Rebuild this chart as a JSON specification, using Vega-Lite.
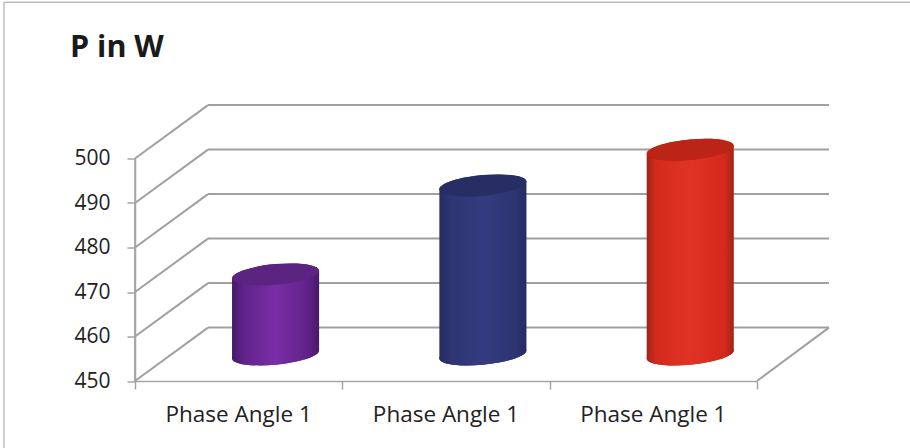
{
  "$schema": "https://vega.github.io/schema/vega-lite/v6.json",
  "width": 622,
  "height": 222.5,
  "autosize": "none",
  "padding": {"left": 135, "top": 158.5, "right": 153, "bottom": 67},
  "background": "white",
  "title": {"text": "P in W", "anchor": "start", "frame": "group", "font": "Open Sans", "fontSize": 30.5, "fontWeight": "bold", "color": "#1a1a1a", "dx": -65, "dy": 90, "baseline": "alphabetic"},
  "config": {"view": {"stroke": null}},
  "datasets": {
    "levels": [{"watt": 450}, {"watt": 460}, {"watt": 470}, {"watt": 480}, {"watt": 490}, {"watt": 500}],
    "bars": [
      {"slot": 0.5, "label": "Phase Angle 1", "power": 468},
      {"slot": 1.5, "label": "Phase Angle 1", "power": 488},
      {"slot": 2.5, "label": "Phase Angle 1", "power": 496}
    ]
  },
  "layer": [
    {
      "description": "Front axes of the 3D box",
      "data": {"name": "levels"},
      "mark": {"type": "rule", "stroke": "#a6a6a6", "strokeWidth": 1.5},
      "encoding": {
        "x": {"datum": 0, "type": "quantitative", "scale": {"domain": [0, 3], "nice": false, "zero": false},
          "axis": {"values": [0, 1, 2, 3], "labels": false, "title": null, "grid": false, "domainColor": "#a6a6a6", "domainWidth": 1.5, "tickColor": "#a6a6a6", "tickWidth": 1.5, "tickSize": 8}},
        "y": {"field": "watt", "type": "quantitative", "scale": {"domain": [450, 500], "nice": false, "zero": false},
          "axis": {"values": [450, 460, 470, 480, 490, 500], "title": null, "grid": false, "domainColor": "#a6a6a6", "domainWidth": 1.5, "tickColor": "#a6a6a6", "tickWidth": 1.5, "tickSize": 8, "labelFont": "Open Sans", "labelFontSize": 21, "labelColor": "#222222", "labelPadding": 17}}
      }
    },
    {
      "description": "Receding side-wall gridlines",
      "data": {"name": "levels"},
      "transform": [{"calculate": "datum.watt + 12", "as": "back"}],
      "mark": {"type": "rule", "stroke": "#a0a0a0", "strokeWidth": 2},
      "encoding": {
        "x": {"datum": 0, "type": "quantitative"},
        "x2": {"datum": 0.352},
        "y": {"field": "watt", "type": "quantitative"},
        "y2": {"field": "back"}
      }
    },
    {
      "description": "Back-wall gridlines",
      "data": {"name": "levels"},
      "transform": [{"calculate": "datum.watt + 12", "as": "back"}],
      "mark": {"type": "rule", "stroke": "#a0a0a0", "strokeWidth": 2},
      "encoding": {
        "x": {"datum": 0.352, "type": "quantitative"},
        "x2": {"datum": 3.347},
        "y": {"field": "back", "type": "quantitative"}
      }
    },
    {
      "description": "Right edge of the floor",
      "data": {"values": [{"watt": 450, "back": 462}]},
      "mark": {"type": "rule", "stroke": "#a0a0a0", "strokeWidth": 2},
      "encoding": {
        "x": {"datum": 3, "type": "quantitative"},
        "x2": {"datum": 3.347},
        "y": {"field": "watt", "type": "quantitative"},
        "y2": {"field": "back"}
      }
    },
    {
      "description": "Chart frame, top and left",
      "data": {"values": [{"top": 535.1, "bottom": 434.7, "left": -0.632, "right": 3.738}]},
      "layer": [
        {
          "mark": {"type": "rule", "stroke": "#bdbdbd", "strokeWidth": 1.5},
          "encoding": {"x": {"field": "left", "type": "quantitative"}, "y": {"field": "top", "type": "quantitative"}, "y2": {"field": "bottom"}}
        },
        {
          "mark": {"type": "rule", "stroke": "#bdbdbd", "strokeWidth": 1.5},
          "encoding": {"x": {"field": "left", "type": "quantitative"}, "x2": {"field": "right"}, "y": {"field": "top", "type": "quantitative"}}
        }
      ]
    },
    {
      "description": "Category labels under the floor",
      "data": {"name": "bars"},
      "mark": {"type": "text", "font": "Open Sans", "fontSize": 22.5, "color": "#222222", "align": "center", "baseline": "alphabetic", "dy": 41},
      "encoding": {
        "x": {"field": "slot", "type": "quantitative"},
        "y": {"datum": 450, "type": "quantitative"},
        "text": {"field": "label"}
      }
    },
    {
      "description": "Cylinders: bars stand at mid depth of the box, each drawn as bottom cap, sheared body and top cap",
      "data": {"name": "bars"},
      "transform": [
        {"calculate": "datum.slot + 0.178", "as": "cx"},
        {"calculate": "455.96", "as": "base"},
        {"calculate": "datum.power + 5.96", "as": "top"},
        {"calculate": "[-1, 1]", "as": "edge"},
        {"flatten": ["edge"]},
        {"calculate": "datum.cx + datum.edge * 0.21", "as": "ex"},
        {"calculate": "datum.top + datum.edge * 0.88", "as": "etop"},
        {"calculate": "datum.base + datum.edge * 0.88", "as": "ebase"}
      ],
      "layer": [
        {
          "transform": [{"filter": "datum.slot == 0.5"}],
          "layer": [
            {
              "mark": {"type": "point", "filled": true, "opacity": 1, "size": 7569, "strokeWidth": 0,
                "shape": "M1,-.09C1,.0403,.5523,.1863,0,.236C-.5523,.2857,-1,.2203,-1,.09C-1,-.0403,-.5523,-.1863,0,-.236C.5523,-.2857,1,-.2203,1,-.09Z",
                "fill": {"gradient": "linear", "x1": 0, "x2": 1, "y1": 0, "y2": 0, "stops": [{"offset": 0, "color": "#47196a"}, {"offset": 0.14, "color": "#61238b"}, {"offset": 0.5, "color": "#7a2da6"}, {"offset": 0.86, "color": "#61238b"}, {"offset": 1, "color": "#47196a"}]}},
              "encoding": {"x": {"field": "cx", "type": "quantitative"}, "y": {"field": "base", "type": "quantitative"}}
            },
            {
              "mark": {"type": "area", "interpolate": "linear",
                "fill": {"gradient": "linear", "x1": 0, "x2": 1, "y1": 0, "y2": 0, "stops": [{"offset": 0, "color": "#47196a"}, {"offset": 0.14, "color": "#61238b"}, {"offset": 0.5, "color": "#7a2da6"}, {"offset": 0.86, "color": "#61238b"}, {"offset": 1, "color": "#47196a"}]}},
              "encoding": {"x": {"field": "ex", "type": "quantitative"}, "y": {"field": "etop", "type": "quantitative"}, "y2": {"field": "ebase"}}
            },
            {
              "mark": {"type": "point", "filled": true, "opacity": 1, "size": 7569, "strokeWidth": 0, "color": "#5a2480",
                "shape": "M1,-.09C1,.0403,.5523,.1863,0,.236C-.5523,.2857,-1,.2203,-1,.09C-1,-.0403,-.5523,-.1863,0,-.236C.5523,-.2857,1,-.2203,1,-.09Z"},
              "encoding": {"x": {"field": "cx", "type": "quantitative"}, "y": {"field": "top", "type": "quantitative"}}
            }
          ]
        },
        {
          "transform": [{"filter": "datum.slot == 1.5"}],
          "layer": [
            {
              "mark": {"type": "point", "filled": true, "opacity": 1, "size": 7569, "strokeWidth": 0,
                "shape": "M1,-.09C1,.0403,.5523,.1863,0,.236C-.5523,.2857,-1,.2203,-1,.09C-1,-.0403,-.5523,-.1863,0,-.236C.5523,-.2857,1,-.2203,1,-.09Z",
                "fill": {"gradient": "linear", "x1": 0, "x2": 1, "y1": 0, "y2": 0, "stops": [{"offset": 0, "color": "#252c60"}, {"offset": 0.14, "color": "#2e3572"}, {"offset": 0.5, "color": "#343b80"}, {"offset": 0.86, "color": "#2e3572"}, {"offset": 1, "color": "#252c60"}]}},
              "encoding": {"x": {"field": "cx", "type": "quantitative"}, "y": {"field": "base", "type": "quantitative"}}
            },
            {
              "mark": {"type": "area", "interpolate": "linear",
                "fill": {"gradient": "linear", "x1": 0, "x2": 1, "y1": 0, "y2": 0, "stops": [{"offset": 0, "color": "#252c60"}, {"offset": 0.14, "color": "#2e3572"}, {"offset": 0.5, "color": "#343b80"}, {"offset": 0.86, "color": "#2e3572"}, {"offset": 1, "color": "#252c60"}]}},
              "encoding": {"x": {"field": "ex", "type": "quantitative"}, "y": {"field": "etop", "type": "quantitative"}, "y2": {"field": "ebase"}}
            },
            {
              "mark": {"type": "point", "filled": true, "opacity": 1, "size": 7569, "strokeWidth": 0, "color": "#272e63",
                "shape": "M1,-.09C1,.0403,.5523,.1863,0,.236C-.5523,.2857,-1,.2203,-1,.09C-1,-.0403,-.5523,-.1863,0,-.236C.5523,-.2857,1,-.2203,1,-.09Z"},
              "encoding": {"x": {"field": "cx", "type": "quantitative"}, "y": {"field": "top", "type": "quantitative"}}
            }
          ]
        },
        {
          "transform": [{"filter": "datum.slot == 2.5"}],
          "layer": [
            {
              "mark": {"type": "point", "filled": true, "opacity": 1, "size": 7569, "strokeWidth": 0,
                "shape": "M1,-.09C1,.0403,.5523,.1863,0,.236C-.5523,.2857,-1,.2203,-1,.09C-1,-.0403,-.5523,-.1863,0,-.236C.5523,-.2857,1,-.2203,1,-.09Z",
                "fill": {"gradient": "linear", "x1": 0, "x2": 1, "y1": 0, "y2": 0, "stops": [{"offset": 0, "color": "#9e2417"}, {"offset": 0.1, "color": "#d22a1c"}, {"offset": 0.5, "color": "#e03326"}, {"offset": 0.9, "color": "#d22a1c"}, {"offset": 1, "color": "#9e2417"}]}},
              "encoding": {"x": {"field": "cx", "type": "quantitative"}, "y": {"field": "base", "type": "quantitative"}}
            },
            {
              "mark": {"type": "area", "interpolate": "linear",
                "fill": {"gradient": "linear", "x1": 0, "x2": 1, "y1": 0, "y2": 0, "stops": [{"offset": 0, "color": "#9e2417"}, {"offset": 0.1, "color": "#d22a1c"}, {"offset": 0.5, "color": "#e03326"}, {"offset": 0.9, "color": "#d22a1c"}, {"offset": 1, "color": "#9e2417"}]}},
              "encoding": {"x": {"field": "ex", "type": "quantitative"}, "y": {"field": "etop", "type": "quantitative"}, "y2": {"field": "ebase"}}
            },
            {
              "mark": {"type": "point", "filled": true, "opacity": 1, "size": 7569, "strokeWidth": 0, "color": "#bb2416",
                "shape": "M1,-.09C1,.0403,.5523,.1863,0,.236C-.5523,.2857,-1,.2203,-1,.09C-1,-.0403,-.5523,-.1863,0,-.236C.5523,-.2857,1,-.2203,1,-.09Z"},
              "encoding": {"x": {"field": "cx", "type": "quantitative"}, "y": {"field": "top", "type": "quantitative"}}
            }
          ]
        }
      ]
    }
  ]
}
